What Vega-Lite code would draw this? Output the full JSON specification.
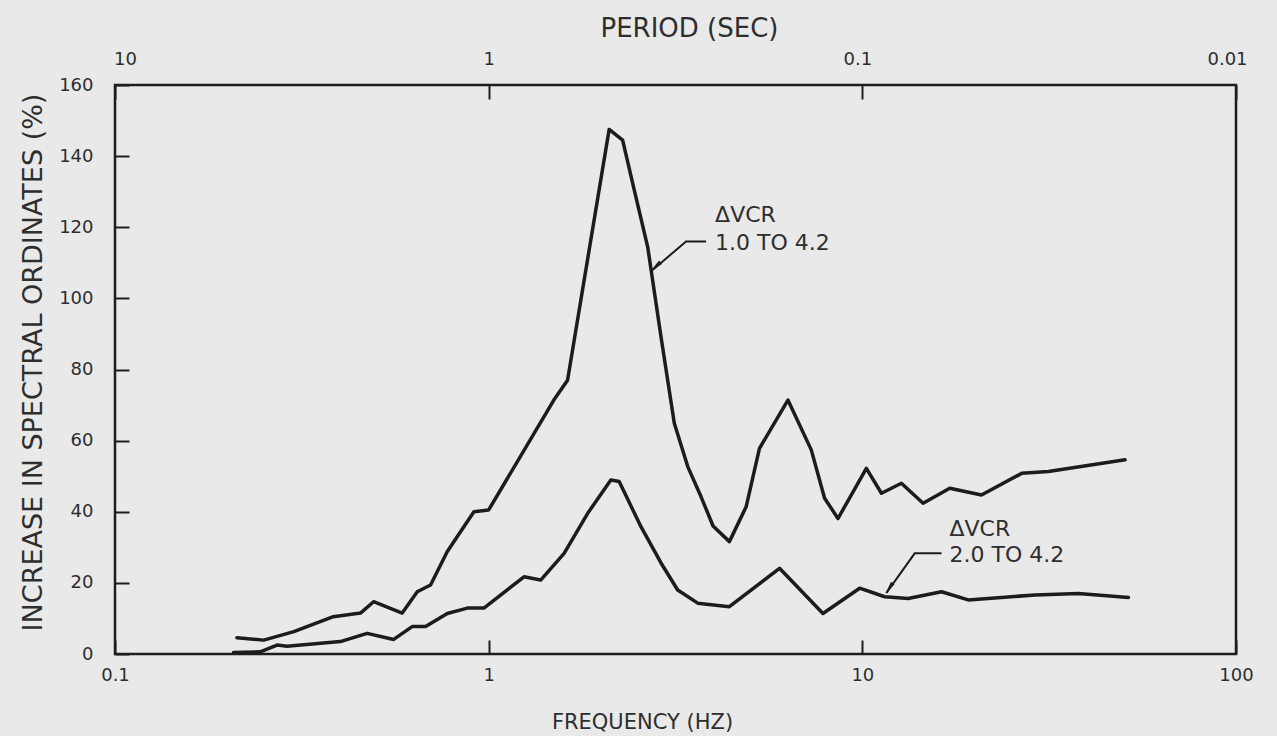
{
  "$schema": "https://vega.github.io/schema/vega-lite/v6.json",
  "width": 1121,
  "height": 569,
  "autosize": {"type": "none"},
  "padding": {"left": 115, "top": 85, "right": 41, "bottom": 82},
  "background": "#e9e9e9",
  "config": {
    "view": {"stroke": "#1e1e1e", "strokeWidth": 2.5},
    "font": "DejaVu Sans",
    "axis": {
      "domain": false,
      "grid": false,
      "tickColor": "#1e1e1e",
      "tickWidth": 2,
      "labelColor": "#2e2e2e",
      "labelFontSize": 18,
      "titleColor": "#2e2e2e",
      "titleFontSize": 21,
      "titleFontWeight": "normal",
      "labelFlush": false,
      "labelOverlap": false
    }
  },
  "datasets": {
    "curves": [
      {"series": "1.0 TO 4.2", "freq": 0.212, "pct": 4.6},
      {"series": "1.0 TO 4.2", "freq": 0.250, "pct": 3.9},
      {"series": "1.0 TO 4.2", "freq": 0.301, "pct": 6.3},
      {"series": "1.0 TO 4.2", "freq": 0.384, "pct": 10.5},
      {"series": "1.0 TO 4.2", "freq": 0.454, "pct": 11.5},
      {"series": "1.0 TO 4.2", "freq": 0.492, "pct": 14.7},
      {"series": "1.0 TO 4.2", "freq": 0.587, "pct": 11.5},
      {"series": "1.0 TO 4.2", "freq": 0.644, "pct": 17.5},
      {"series": "1.0 TO 4.2", "freq": 0.699, "pct": 19.4},
      {"series": "1.0 TO 4.2", "freq": 0.775, "pct": 28.8},
      {"series": "1.0 TO 4.2", "freq": 0.913, "pct": 40.0},
      {"series": "1.0 TO 4.2", "freq": 1.0, "pct": 40.5},
      {"series": "1.0 TO 4.2", "freq": 1.494, "pct": 71.4},
      {"series": "1.0 TO 4.2", "freq": 1.626, "pct": 77},
      {"series": "1.0 TO 4.2", "freq": 2.101, "pct": 147.5},
      {"series": "1.0 TO 4.2", "freq": 2.283, "pct": 144.5},
      {"series": "1.0 TO 4.2", "freq": 2.452, "pct": 130.5},
      {"series": "1.0 TO 4.2", "freq": 2.664, "pct": 114.5},
      {"series": "1.0 TO 4.2", "freq": 2.892, "pct": 89.2},
      {"series": "1.0 TO 4.2", "freq": 3.139, "pct": 64.9},
      {"series": "1.0 TO 4.2", "freq": 3.410, "pct": 52.7},
      {"series": "1.0 TO 4.2", "freq": 3.702, "pct": 44.2},
      {"series": "1.0 TO 4.2", "freq": 3.986, "pct": 36},
      {"series": "1.0 TO 4.2", "freq": 4.408, "pct": 31.6},
      {"series": "1.0 TO 4.2", "freq": 4.887, "pct": 41.4},
      {"series": "1.0 TO 4.2", "freq": 5.305, "pct": 57.8},
      {"series": "1.0 TO 4.2", "freq": 6.322, "pct": 71.4},
      {"series": "1.0 TO 4.2", "freq": 7.300, "pct": 57.4},
      {"series": "1.0 TO 4.2", "freq": 7.925, "pct": 43.8},
      {"series": "1.0 TO 4.2", "freq": 8.608, "pct": 38.1},
      {"series": "1.0 TO 4.2", "freq": 10.25, "pct": 52.2},
      {"series": "1.0 TO 4.2", "freq": 11.25, "pct": 45.2},
      {"series": "1.0 TO 4.2", "freq": 12.72, "pct": 48.0},
      {"series": "1.0 TO 4.2", "freq": 14.54, "pct": 42.4},
      {"series": "1.0 TO 4.2", "freq": 17.14, "pct": 46.6},
      {"series": "1.0 TO 4.2", "freq": 20.84, "pct": 44.7},
      {"series": "1.0 TO 4.2", "freq": 26.69, "pct": 50.8},
      {"series": "1.0 TO 4.2", "freq": 31.47, "pct": 51.3},
      {"series": "1.0 TO 4.2", "freq": 50.49, "pct": 54.6},
      {"series": "2.0 TO 4.2", "freq": 0.2076, "pct": 0.4},
      {"series": "2.0 TO 4.2", "freq": 0.2447, "pct": 0.6},
      {"series": "2.0 TO 4.2", "freq": 0.2714, "pct": 2.5},
      {"series": "2.0 TO 4.2", "freq": 0.2886, "pct": 2.2},
      {"series": "2.0 TO 4.2", "freq": 0.401, "pct": 3.5},
      {"series": "2.0 TO 4.2", "freq": 0.473, "pct": 5.8},
      {"series": "2.0 TO 4.2", "freq": 0.557, "pct": 4.1},
      {"series": "2.0 TO 4.2", "freq": 0.624, "pct": 7.7},
      {"series": "2.0 TO 4.2", "freq": 0.678, "pct": 7.7},
      {"series": "2.0 TO 4.2", "freq": 0.775, "pct": 11.4},
      {"series": "2.0 TO 4.2", "freq": 0.877, "pct": 12.9},
      {"series": "2.0 TO 4.2", "freq": 0.971, "pct": 12.9},
      {"series": "2.0 TO 4.2", "freq": 1.243, "pct": 21.7},
      {"series": "2.0 TO 4.2", "freq": 1.378, "pct": 20.8},
      {"series": "2.0 TO 4.2", "freq": 1.592, "pct": 28.3},
      {"series": "2.0 TO 4.2", "freq": 1.839, "pct": 39.5},
      {"series": "2.0 TO 4.2", "freq": 2.123, "pct": 48.9},
      {"series": "2.0 TO 4.2", "freq": 2.235, "pct": 48.5},
      {"series": "2.0 TO 4.2", "freq": 2.556, "pct": 35.8},
      {"series": "2.0 TO 4.2", "freq": 2.892, "pct": 25.6},
      {"series": "2.0 TO 4.2", "freq": 3.205, "pct": 18},
      {"series": "2.0 TO 4.2", "freq": 3.627, "pct": 14.3},
      {"series": "2.0 TO 4.2", "freq": 4.408, "pct": 13.3},
      {"series": "2.0 TO 4.2", "freq": 6.003, "pct": 24.1},
      {"series": "2.0 TO 4.2", "freq": 7.845, "pct": 11.4},
      {"series": "2.0 TO 4.2", "freq": 9.835, "pct": 18.5},
      {"series": "2.0 TO 4.2", "freq": 11.48, "pct": 16.1},
      {"series": "2.0 TO 4.2", "freq": 13.26, "pct": 15.6},
      {"series": "2.0 TO 4.2", "freq": 16.29, "pct": 17.5},
      {"series": "2.0 TO 4.2", "freq": 19.20, "pct": 15.2},
      {"series": "2.0 TO 4.2", "freq": 28.97, "pct": 16.6},
      {"series": "2.0 TO 4.2", "freq": 37.87, "pct": 17.0},
      {"series": "2.0 TO 4.2", "freq": 51.56, "pct": 15.9}
    ],
    "notes": [
      {"freq": 4.036, "pct": 121.5, "label": "ΔVCR"},
      {"freq": 4.036, "pct": 113.6, "label": "1.0 TO 4.2"},
      {"freq": 17.11, "pct": 33.2, "label": "ΔVCR"},
      {"freq": 17.11, "pct": 25.9, "label": "2.0 TO 4.2"}
    ],
    "leaders": [
      {"id": "a", "freq": 2.747, "pct": 108.0},
      {"id": "a", "freq": 3.375, "pct": 116.0},
      {"id": "a", "freq": 3.818, "pct": 116.0},
      {"id": "b", "freq": 11.59, "pct": 17.1},
      {"id": "b", "freq": 13.81, "pct": 28.3},
      {"id": "b", "freq": 16.29, "pct": 28.3}
    ],
    "arrowA": [{"freq": 2.80, "pct": 109.0}],
    "arrowB": [{"freq": 11.8, "pct": 18.5}]
  },
  "layer": [
    {
      "data": {"name": "curves"},
      "mark": {"type": "line", "color": "#1c1c1c", "strokeWidth": 3.5, "strokeJoin": "round", "strokeCap": "round"},
      "encoding": {
        "x": {
          "field": "freq", "type": "quantitative",
          "scale": {"type": "log", "domain": [0.1, 100], "nice": false},
          "axis": {
            "orient": "bottom",
            "values": [0.1, 1, 10, 100],
            "labelExpr": "format(datum.value, '~g')",
            "tickSize": -14,
            "labelPadding": 26,
            "labelBaseline": "top",
            "title": "FREQUENCY (HZ)",
            "titleX": 527,
            "titleY": 74,
            "titleBaseline": "alphabetic",
            "titleAlign": "center"
          }
        },
        "y": {
          "field": "pct", "type": "quantitative",
          "scale": {"domain": [0, 160], "nice": false},
          "axis": {
            "orient": "left",
            "values": [0, 20, 40, 60, 80, 100, 120, 140, 160],
            "tickSize": -14,
            "labelPadding": 36,
            "title": "INCREASE IN SPECTRAL ORDINATES (%)",
            "titleFontSize": 27,
            "titleAngle": 270,
            "titleX": -82,
            "titleY": 277,
            "titleAlign": "center",
            "titleBaseline": "middle"
          }
        },
        "detail": {"field": "series"}
      }
    },
    {
      "data": {"name": "leaders"},
      "mark": {"type": "line", "color": "#1c1c1c", "strokeWidth": 2},
      "encoding": {
        "x": {"field": "freq", "type": "quantitative", "axis": null},
        "y": {"field": "pct", "type": "quantitative", "axis": null},
        "detail": {"field": "id"}
      }
    },
    {
      "data": {"name": "arrowA"},
      "mark": {"type": "point", "shape": "M0,-1L0.35,1L-0.35,1Z", "filled": true, "color": "#1c1c1c", "opacity": 1, "size": 160, "angle": 230},
      "encoding": {
        "x": {"field": "freq", "type": "quantitative", "axis": null},
        "y": {"field": "pct", "type": "quantitative", "axis": null}
      }
    },
    {
      "data": {"name": "arrowB"},
      "mark": {"type": "point", "shape": "M0,-1L0.35,1L-0.35,1Z", "filled": true, "color": "#1c1c1c", "opacity": 1, "size": 160, "angle": 215},
      "encoding": {
        "x": {"field": "freq", "type": "quantitative", "axis": null},
        "y": {"field": "pct", "type": "quantitative", "axis": null}
      }
    },
    {
      "data": {"name": "notes"},
      "mark": {"type": "text", "align": "left", "baseline": "alphabetic", "fontSize": 22, "color": "#2e2e2e"},
      "encoding": {
        "x": {
          "field": "freq", "type": "quantitative",
          "axis": {
            "orient": "top",
            "values": [0.1, 1, 10, 100],
            "labelExpr": "datum.value < 0.5 ? '10' : datum.value < 5 ? '1' : datum.value < 50 ? '0.1' : '0.01'",
            "labelOffset": {"condition": [{"test": "datum.value < 0.5", "value": 10}, {"test": "datum.value > 50", "value": -9}, {"test": "datum.value > 5", "value": -5}], "value": 0},
            "tickSize": -14,
            "labelPadding": 35,
            "labelBaseline": "alphabetic",
            "title": "PERIOD (SEC)",
            "titleFontSize": 26,
            "titleX": 574,
            "titleY": -49,
            "titleBaseline": "alphabetic",
            "titleAlign": "center"
          }
        },
        "y": {"field": "pct", "type": "quantitative", "axis": null},
        "text": {"field": "label"}
      }
    }
  ],
  "resolve": {"axis": {"x": "independent", "y": "independent"}}
}
